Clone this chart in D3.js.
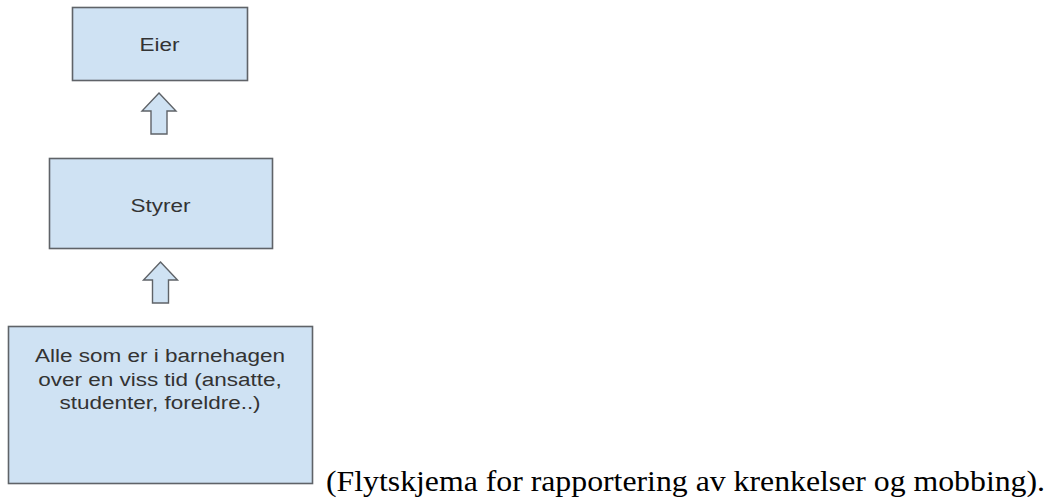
<!DOCTYPE html>
<html><head><meta charset="utf-8">
<script src="https://cdn.jsdelivr.net/npm/d3@7"></script>
<style>html,body{margin:0;padding:0;background:#fff;}svg{display:block;}</style>
</head><body>
<svg id="c" width="1048" height="500"></svg>
<script>
// Flowchart content
const nodeLabels = [
  ["Eier"],
  ["Styrer"],
  ["Alle som er i barnehagen", "over en viss tid (ansatte,", "studenter, foreldre..)"]
];
const arrowLinks = [[1, 0], [2, 1]]; // from -> to (upward arrows)
const caption = "(Flytskjema for rapportering av krenkelser og mobbing).";

// Layout (pixels)
const boxes = [
  {x: 72, y: 7, w: 175, h: 73, ty: 51},
  {x: 49, y: 158, w: 223, h: 90, ty: 212},
  {x: 8, y: 326, w: 304, h: 157, ty: 362}
];
const arrowGeom = [
  {cx: 159, tip: 93, base: 111, bottom: 134},
  {cx: 160.5, tip: 262, base: 280, bottom: 303}
];

const svg = d3.select("#c");
const fill = "#cfe2f3", stroke = "#5f6368";

const g = svg.selectAll("g.node").data(nodeLabels).join("g").attr("class", "node");
g.append("rect")
  .attr("x", (d, i) => boxes[i].x + 0.5)
  .attr("y", (d, i) => boxes[i].y + 0.5)
  .attr("width", (d, i) => boxes[i].w)
  .attr("height", (d, i) => boxes[i].h)
  .attr("fill", fill).attr("stroke", stroke).attr("stroke-width", 1.6);
g.each(function(d, i) {
  const b = boxes[i];
  d3.select(this).selectAll("text").data(d).join("text")
    .attr("transform", (t, j) => `translate(${b.x + b.w / 2},${b.ty + j * 23.5}) scale(1.25,1)`)
    .attr("text-anchor", "middle")
    .attr("font-family", "Liberation Sans, Arial, sans-serif")
    .attr("font-size", 18)
    .attr("fill", "#333")
    .text(t => t);
});

svg.selectAll("path.arrow").data(arrowLinks).join("path").attr("class", "arrow")
  .attr("d", (d, i) => {
    const a = arrowGeom[i];
    const hw = 17, sw = 8;
    return d3.line()([
      [a.cx, a.tip], [a.cx + hw, a.base], [a.cx + sw, a.base], [a.cx + sw, a.bottom],
      [a.cx - sw, a.bottom], [a.cx - sw, a.base], [a.cx - hw, a.base]
    ]) + "Z";
  })
  .attr("fill", fill).attr("stroke", stroke).attr("stroke-width", 1.4);

svg.append("text")
  .attr("x", 326).attr("y", 491)
  .attr("font-family", "Liberation Serif, Times New Roman, serif")
  .attr("font-size", 29)
  .attr("textLength", 719)
  .attr("lengthAdjust", "spacingAndGlyphs")
  .attr("fill", "#000")
  .text(caption);
</script>
</body></html>
